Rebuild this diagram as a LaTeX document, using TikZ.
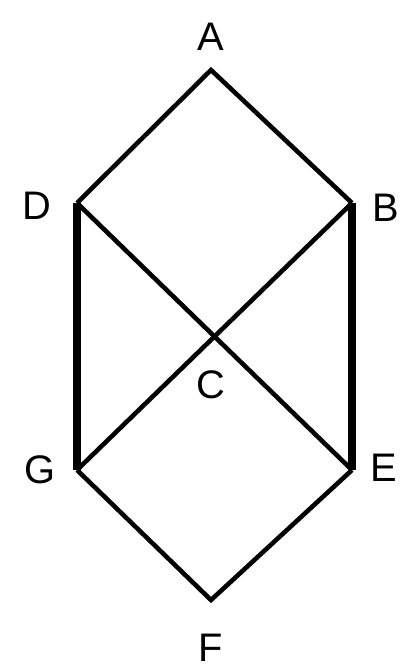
\documentclass[tikz,border=0pt]{standalone}
\usepackage{fontspec}
\setmainfont{Liberation Sans}
\begin{document}
\begin{tikzpicture}[x=0.03cm,y=-0.03cm,
    edge/.style={line width=3.9pt},
    rung/.style={line width=7.6pt},
    lbl/.style={font=\fontsize{34}{34}\selectfont,inner sep=0pt}]
    \useasboundingbox (0,0) rectangle (417,668);
    \coordinate (A) at (211,70);
    \coordinate (D) at (77,203);
    \coordinate (B) at (352,203);
    \coordinate (C) at (211,333);
    \coordinate (G) at (77,470);
    \coordinate (E) at (352,470);
    \coordinate (F) at (211,600);
    \node [lbl] (lA) at (211,37){A};
    \node [lbl] (lD) at (37,206){D};
    \node [lbl] (lB) at (386,208){B};
    \node [lbl] (lC) at (211,385){C};
    \node [lbl] (lG) at (40,470){G};
    \node [lbl] (lE) at (384,468){E};
    \node [lbl] (lF) at (211,648){F};
    \draw [edge] (D)--(A)--(B);
    \draw [edge] (D)--(E);
    \draw [edge] (B)--(G);
    \draw [edge] (G)--(F)--(E);
    \draw [rung] (D)--(G);
    \draw [rung] (B)--(E);
\end{tikzpicture}
\end{document}
